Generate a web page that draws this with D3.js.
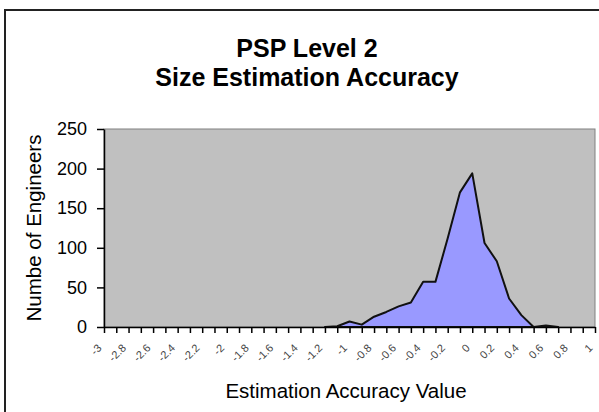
<!DOCTYPE html>
<html>
<head>
<meta charset="utf-8">
<script src="https://cdn.jsdelivr.net/npm/d3@7"></script>
<style>
  body { margin: 0; background: #fff; }
  svg { display: block; font-family: "Liberation Sans", Arial, sans-serif; }
</style>
</head>
<body>
<svg id="chart" width="599" height="412"></svg>
<script>
// categories on the x axis (estimation accuracy value)
const categories = ["-3", "-2.9", "-2.8", "-2.7", "-2.6", "-2.5", "-2.4", "-2.3", "-2.2", "-2.1",
  "-2", "-1.9", "-1.8", "-1.7", "-1.6", "-1.5", "-1.4", "-1.3", "-1.2", "-1.1",
  "-1", "-0.9", "-0.8", "-0.7", "-0.6", "-0.5", "-0.4", "-0.3", "-0.2", "-0.1",
  "0", "0.1", "0.2", "0.3", "0.4", "0.5", "0.6", "0.7", "0.8", "0.9", "1"];

// number of engineers per category (null = no data)
const engineers = [null, null, null, null, null, null, null, null, null, null,
  null, null, null, null, null, null, null, null, 0, 1,
  7, 3, 13, 19, 26, 31, 57, 57, 112, 170,
  194, 106, 83, 36, 15, 0, 2, 0, null, null, null];

const xTickLabels = ["-3", "-2.8", "-2.6", "-2.4", "-2.2", "-2", "-1.8", "-1.6", "-1.4", "-1.2",
  "-1", "-0.8", "-0.6", "-0.4", "-0.2", "0", "0.2", "0.4", "0.6", "0.8", "1"];
const yTicks = [0, 50, 100, 150, 200, 250];

const svg = d3.select("#chart");
const plotLeft = 104, plotRight = 595, plotTop = 129, plotBottom = 327;

// outer chart frame
svg.append("rect")
  .attr("x", 5).attr("y", 10)
  .attr("width", 620).attr("height", 430)
  .attr("fill", "#fff")
  .attr("stroke", "#222")
  .attr("stroke-width", 2);

// titles
svg.append("text")
  .attr("x", 307).attr("y", 57)
  .attr("text-anchor", "middle")
  .attr("font-size", 25).attr("font-weight", "bold")
  .text("PSP Level 2");
svg.append("text")
  .attr("x", 307).attr("y", 86)
  .attr("text-anchor", "middle")
  .attr("font-size", 25).attr("font-weight", "bold")
  .text("Size Estimation Accuracy");

let x = d3.scalePoint()
  .domain(categories)
  .range([plotLeft, plotRight]);

let y = d3.scaleLinear()
  .domain([0, 250])
  .range([plotBottom, plotTop]);

// plot area
svg.append("rect")
  .attr("x", plotLeft).attr("y", plotTop)
  .attr("width", plotRight - plotLeft).attr("height", plotBottom - plotTop)
  .attr("fill", "#c0c0c0")
  .attr("stroke", "#808080")
  .attr("stroke-width", 1);

let area = d3.area()
  .defined(d => d != null)
  .x((d, i) => x(categories[i]))
  .y0(y(0))
  .y1(d => y(d));

svg.append("path")
  .datum(engineers)
  .attr("d", area)
  .attr("fill", "#9999ff")
  .attr("stroke", "#111")
  .attr("stroke-width", 2)
  .attr("stroke-linejoin", "round");

// y axis
let yAxis = svg.append("g")
  .attr("transform", "translate(" + plotLeft + ",0)")
  .call(d3.axisLeft(y).tickValues(yTicks).tickSize(7).tickSizeOuter(0).tickPadding(10));
yAxis.select(".domain").attr("stroke", "#000").attr("stroke-width", 1.5);
yAxis.selectAll(".tick line").attr("stroke", "#000").attr("stroke-width", 1.5);
yAxis.selectAll(".tick text")
  .attr("font-size", 18)
  .attr("font-family", "Liberation Sans, Arial, sans-serif")
  .attr("fill", "#000");

// x axis
let xAxis = svg.append("g")
  .attr("transform", "translate(0," + plotBottom + ")")
  .call(d3.axisBottom(x).tickSize(6).tickSizeOuter(0)
    .tickFormat(d => xTickLabels.includes(d) ? d : ""));
xAxis.select(".domain").attr("stroke", "#000").attr("stroke-width", 1.5);
xAxis.selectAll(".tick line").attr("stroke", "#000").attr("stroke-width", 1.5);
xAxis.selectAll(".tick text")
  .attr("font-size", 11)
  .attr("font-family", "Liberation Sans, Arial, sans-serif")
  .attr("fill", "#444")
  .attr("text-anchor", "end")
  .attr("x", 0).attr("y", 0).attr("dy", "0.35em")
  .attr("transform", "translate(-5,19) rotate(-45)");

// axis titles
svg.append("text")
  .attr("transform", "translate(41,228) rotate(-90)")
  .attr("text-anchor", "middle")
  .attr("font-size", 20.5)
  .text("Numbe of Engineers");

svg.append("text")
  .attr("x", 346).attr("y", 398)
  .attr("text-anchor", "middle")
  .attr("font-size", 20.5)
  .text("Estimation Accuracy Value");
</script>
</body>
</html>
